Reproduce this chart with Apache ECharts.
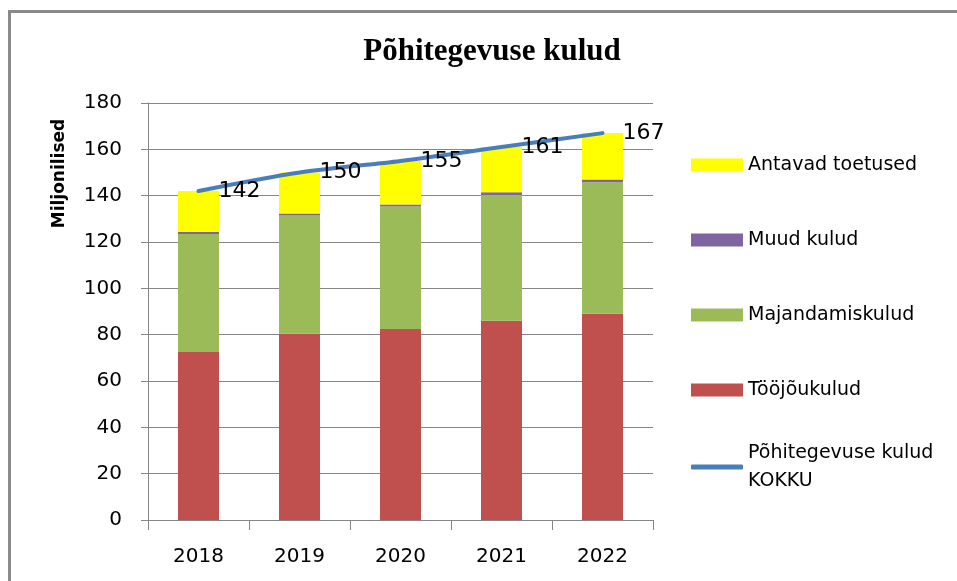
<!DOCTYPE html>
<html>
<head>
<meta charset="utf-8">
<script src="https://cdn.jsdelivr.net/npm/echarts@6/dist/echarts.min.js"></script>
<style>
html,body{margin:0;padding:0;background:#fff;}
#c{width:957px;height:581px;}
</style>
</head>
<body>
<div id="c"></div>
<script>
var years = ['2018', '2019', '2020', '2021', '2022'];
var toojoukulud = [72.5, 80.4, 82.5, 86.0, 89.0];
var majandamiskulud = [50.9, 51.0, 52.8, 54.3, 56.8];
var muudKulud = [0.9, 0.9, 0.9, 1.2, 1.2];
var antavadToetused = [17.7, 17.7, 18.8, 19.5, 20.0];
var kokku = [142, 150, 155, 161, 167];
var yTicks = [0, 20, 40, 60, 80, 100, 120, 140, 160, 180];

var FONT = 'DejaVu Sans';
var chart = echarts.init(document.getElementById('c'));
var barW = 41;
chart.setOption({
  animation: false,
  backgroundColor: '#fff',
  title: {
    text: 'Põhitegevuse kulud',
    left: 487, top: 31, textAlign: 'center',
    textStyle: {fontFamily: 'Liberation Serif', fontWeight: 'bold', fontSize: 31, color: '#000'}
  },
  graphic: [
    {type: 'rect', shape: {x: 9.5, y: 11.5, width: 1000, height: 1000}, style: {fill: 'none', stroke: '#8a8a8a', lineWidth: 3}, silent: true},
    {type: 'text', x: 60, y: 173.5, rotation: Math.PI / 2,
     style: {text: 'Miljonilised', fontFamily: FONT, fontWeight: 'bold', fontSize: 17, fill: '#000', align: 'center', verticalAlign: 'middle'}}
  ],
  grid: {left: 148, right: 304, top: 103, bottom: 61, containLabel: false},
  legend: [
    {
      orient: 'vertical', left: 691, top: 155, padding: 0, itemGap: 55,
      itemWidth: 52, itemHeight: 13, icon: 'rect',
      textStyle: {fontFamily: FONT, fontSize: 19, color: '#000', lineHeight: 20},
      data: ['Antavad toetused', 'Muud kulud', 'Majandamiskulud', 'Tööjõukulud']
    },
    {
      orient: 'vertical', left: 691, top: 425, padding: 0,
      itemWidth: 52, itemHeight: 5,
      textStyle: {fontFamily: FONT, fontSize: 19, color: '#000', lineHeight: 28, padding: [28, 0, 0, 0]},
      formatter: function (n) { return 'Põhitegevuse kulud\nKOKKU'; },
      data: [{name: 'Põhitegevuse kulud KOKKU', icon: 'roundRect', itemStyle: {color: '#4A7EBB'}}]
    }
  ],
  xAxis: {
    type: 'category', data: years,
    axisLine: {lineStyle: {color: '#868686', width: 1}},
    axisTick: {show: true, length: 10, lineStyle: {color: '#868686'}},
    axisLabel: {fontFamily: FONT, fontSize: 20, color: '#000', margin: 27}
  },
  yAxis: {
    type: 'value', min: 0, max: 180, interval: 20,
    axisLine: {show: true, lineStyle: {color: '#868686', width: 1}},
    axisTick: {show: true, length: 7, lineStyle: {color: '#868686'}},
    splitLine: {lineStyle: {color: '#868686', width: 1}},
    axisLabel: {fontFamily: FONT, fontSize: 20, color: '#000', margin: 26,
      formatter: function (v) { return yTicks.indexOf(v) >= 0 ? String(v) : ''; }}
  },
  series: [
    {name: 'Tööjõukulud', type: 'bar', stack: 's', barWidth: barW, data: toojoukulud, itemStyle: {color: '#C0504D'}},
    {name: 'Majandamiskulud', type: 'bar', stack: 's', barWidth: barW, data: majandamiskulud, itemStyle: {color: '#9BBB59'}},
    {name: 'Muud kulud', type: 'bar', stack: 's', barWidth: barW, data: muudKulud, itemStyle: {color: '#8064A2'}},
    {name: 'Antavad toetused', type: 'bar', stack: 's', barWidth: barW, data: antavadToetused, itemStyle: {color: '#FFFF00'}},
    {name: 'Põhitegevuse kulud KOKKU', type: 'line', data: kokku, smooth: 0.3,
     symbol: 'circle', symbolSize: 0, showSymbol: true,
     lineStyle: {color: '#4A7EBB', width: 4, cap: 'round'},
     itemStyle: {color: '#4A7EBB'},
     label: {show: true, position: 'right', distance: 20, fontFamily: FONT, fontSize: 22, color: '#000'},
     z: 5}
  ]
});
</script>
</body>
</html>
